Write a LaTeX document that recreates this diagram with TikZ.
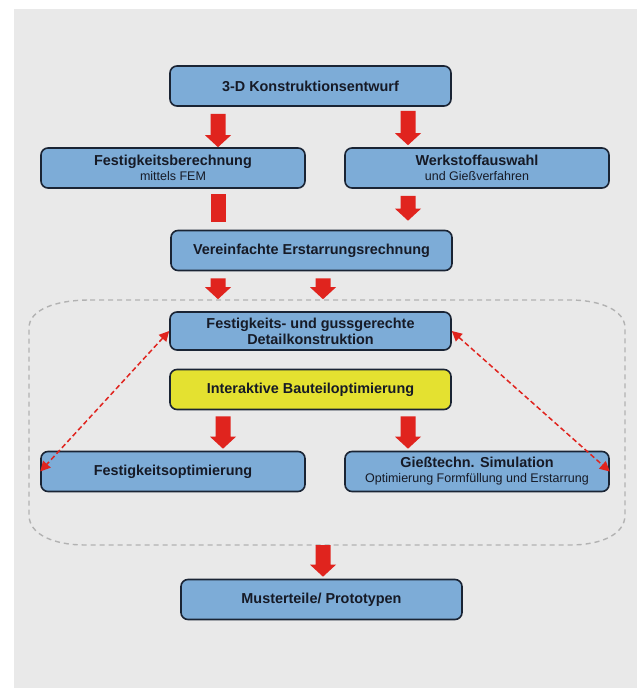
\documentclass[tikz,border=0pt]{standalone}
\usepackage{fontspec}
\setmainfont{Liberation Sans}
\usetikzlibrary{calc,arrows.meta}
\definecolor{bggray}{RGB}{233,233,233}
\definecolor{boxblue}{RGB}{125,172,215}
\definecolor{boxyellow}{RGB}{228,225,48}
\definecolor{boxline}{RGB}{26,36,52}
\definecolor{txtcol}{RGB}{22,26,38}
\definecolor{arrowred}{RGB}{224,36,30}
\definecolor{dashgray}{RGB}{178,178,178}
\newcommand{\blkarrow}[2]{\fill[arrowred] let \p1=(#1), \p2=(#2) in
  (\x1-7.5pt,\y1) -- (\x1+7.5pt,\y1) -- (\x1+7.5pt,\y2+12pt) -- (\x1+13pt,\y2+12pt)
  -- (\x1,\y2) -- (\x1-13pt,\y2+12pt) -- (\x1-7.5pt,\y2+12pt) -- cycle;}
\newcommand{\blkbar}[2]{\fill[arrowred] let \p1=(#1), \p2=(#2) in
  (\x1-7.5pt,\y1) rectangle (\x1+7.5pt,\y2);}
\tikzset{
  box/.style={draw=boxline, line width=1.6pt, fill=boxblue, rounded corners=7pt,
    inner sep=0pt, align=center, text=txtcol,
    font=\bfseries\fontsize{14.4}{16}\selectfont},
  wide/.style={minimum width=281pt, minimum height=40pt},
  half/.style={minimum width=264pt, minimum height=40pt},
  dasharrow/.style={draw=arrowred, line width=1.5pt, dash pattern=on 5pt off 3pt,
    {Triangle[length=10pt,width=10pt]}-{Triangle[length=10pt,width=10pt]}},
  region/.style={draw=dashgray, line width=1.4pt, dash pattern=on 5pt off 4pt}
}
\begin{document}
\begin{tikzpicture}[x=1pt,y=-1pt]
\useasboundingbox (0,0) rectangle (637,688);
\fill[white] (0,0) rectangle (637,688);
\fill[bggray] (14,9) rectangle (637,688);

% dashed region
\draw[region] (90,300) -- (570,300) .. controls (600,300) and (625,310) .. (625,328)
  -- (625,515) .. controls (625,535) and (600,545) .. (570,545)
  -- (85,545) .. controls (55,545) and (29,535) .. (29,515)
  -- (29,328) .. controls (29,310) and (55,300) .. (90,300) -- cycle;

% nodes
\node[box,wide] (b1) at (310.5,86) {3-D Konstruktionsentwurf};
\node[box,half] (b2) at (173,168) {Festigkeitsberechnung\\[-1pt]{\fontsize{12.5}{15}\selectfont\mdseries mittels FEM}};
\node[box,half] (b3) at (477,168) {Werkstoffauswahl\\[-1pt]{\fontsize{12.5}{15}\selectfont\mdseries und Gießverfahren}};
\node[box,wide] (b4) at (311.5,250.5) {Vereinfachte Erstarrungsrechnung};
\node[box,wide,minimum height=38pt] (b5) at (310.5,331) {Festigkeits- und gussgerechte\\Detailkonstruktion};
\node[box,wide,fill=boxyellow] (b6) at (310.5,389.5) {Interaktive Bauteiloptimierung};
\node[box,half] (b7) at (173,471.5) {Festigkeitsoptimierung};
\node[box,half] (b8) at (477,471.5) {Gießtechn. Simulation\\[-1pt]{\fontsize{12.5}{15}\selectfont\mdseries Optimierung Formfüllung und Erstarrung}};
\node[box,wide] (b9) at (321.5,599.5) {Musterteile/ Prototypen};

% x positions of block arrows
\coordinate (xL) at (218,0);
\coordinate (xR) at (408,0);
\coordinate (xM) at (323,0);
\coordinate (xL2) at (223,0);

% block arrows
\blkarrow{$(b1.south -| xL)+(0,7)$}{$(b2.north -| xL)$}
\blkarrow{$(b1.south -| xR)+(0,4)$}{$(b3.north -| xR)+(0,-2)$}
\blkbar{$(b2.south -| xL)+(0,5)$}{$(b4.north -| xL)+(0,-8)$}
\blkarrow{$(b3.south -| xR)+(0,7)$}{$(b4.north -| xR)+(0,-9)$}
\blkarrow{$(b4.south -| xL)+(0,7)$}{$(b5.north -| xL)+(0,-12)$}
\blkarrow{$(b4.south -| xM)+(0,7)$}{$(b5.north -| xM)+(0,-12)$}
\blkarrow{$(b6.south -| xL2)+(0,6)$}{$(b7.north -| xL2)+(0,-2)$}
\blkarrow{$(b6.south -| xR)+(0,6)$}{$(b8.north -| xR)+(0,-2)$}
\coordinate (regbot) at (323,545);
\blkarrow{regbot}{$(b9.north -| xM)+(0,-2)$}

% dashed feedback arrows
\draw[dasharrow] (b5.west) -- (b7.west);
\draw[dasharrow] (b5.east) -- (b8.east);
\end{tikzpicture}
\end{document}
